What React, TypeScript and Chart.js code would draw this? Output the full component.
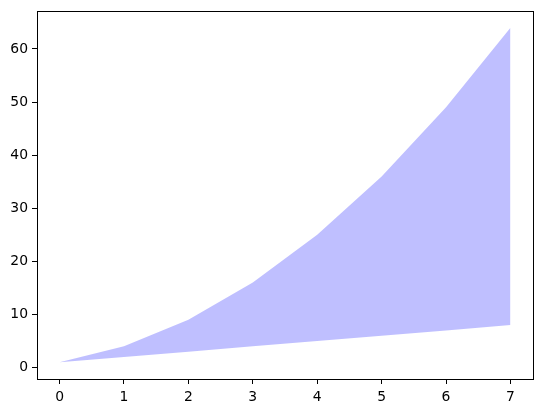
import React, { useEffect, useRef } from "react";
import { Chart, registerables } from "chart.js";

Chart.register(...registerables);

const xValues = [0, 1, 2, 3, 4, 5, 6, 7];
const lowerValues = [1, 2, 3, 4, 5, 6, 7, 8];
const upperValues = [1, 4, 9, 16, 25, 36, 49, 64];
const xTicks = [0, 1, 2, 3, 4, 5, 6, 7];
const yTicks = [0, 10, 20, 30, 40, 50, 60];

const W = 543;
const H = 413;
const LEFT = 37;
const RIGHT = 533;
const TOP = 10;
const BOTTOM = 379;

const framePlugin = {
  id: "frame",
  afterDraw(chart: any) {
    const { ctx, chartArea } = chart;
    ctx.save();
    ctx.strokeStyle = "#000";
    ctx.lineWidth = 1;
    ctx.strokeRect(
      Math.round(chartArea.left) + 0.5,
      Math.round(chartArea.top) + 0.5,
      Math.round(chartArea.right - chartArea.left),
      Math.round(chartArea.bottom - chartArea.top)
    );
    ctx.restore();
  },
};

export default function App() {
  const ref = useRef<HTMLCanvasElement>(null);
  useEffect(() => {
    document.body.style.margin = "0";
    const font = { family: "DejaVu Sans", size: 13.9, lineHeight: 1 };
    const chart = new Chart(ref.current!, {
      type: "line",
      data: {
        datasets: [
          {
            data: xValues.map((x, i) => ({ x, y: lowerValues[i] })),
            borderWidth: 0,
            pointRadius: 0,
            fill: false,
            borderColor: "rgba(0,0,0,0)",
          },
          {
            data: xValues.map((x, i) => ({ x, y: upperValues[i] })),
            borderWidth: 0,
            pointRadius: 0,
            borderColor: "rgba(0,0,0,0)",
            backgroundColor: "rgba(0,0,255,0.25)",
            fill: "-1",
          },
        ],
      },
      options: {
        animation: false,
        responsive: false,
        maintainAspectRatio: false,
        layout: { padding: { top: TOP, right: W - RIGHT, left: 0, bottom: 0 } },
        plugins: { legend: { display: false }, tooltip: { enabled: false } },
        scales: {
          x: {
            type: "linear",
            min: -0.35,
            max: 7.35,
            afterBuildTicks: (s: any) => {
              s.ticks = xTicks.map((v) => ({ value: v }));
            },
            afterFit: (s: any) => {
              s.height = H - BOTTOM;
            },
            ticks: { color: "#000", font, padding: 6, maxRotation: 0 },
            grid: {
              drawOnChartArea: false,
              tickLength: 5,
              tickColor: "#000",
            },
            border: { display: false },
          },
          y: {
            type: "linear",
            min: -2.15,
            max: 67.15,
            afterBuildTicks: (s: any) => {
              s.ticks = yTicks.map((v) => ({ value: v }));
            },
            afterFit: (s: any) => {
              s.width = LEFT;
            },
            ticks: { color: "#000", font, padding: 4 },
            grid: {
              drawOnChartArea: false,
              tickLength: 5,
              tickColor: "#000",
            },
            border: { display: false },
          },
        },
      },
      plugins: [framePlugin],
    });
    return () => chart.destroy();
  }, []);
  return <canvas ref={ref} width={W} height={H} style={{ display: "block" }} />;
}
